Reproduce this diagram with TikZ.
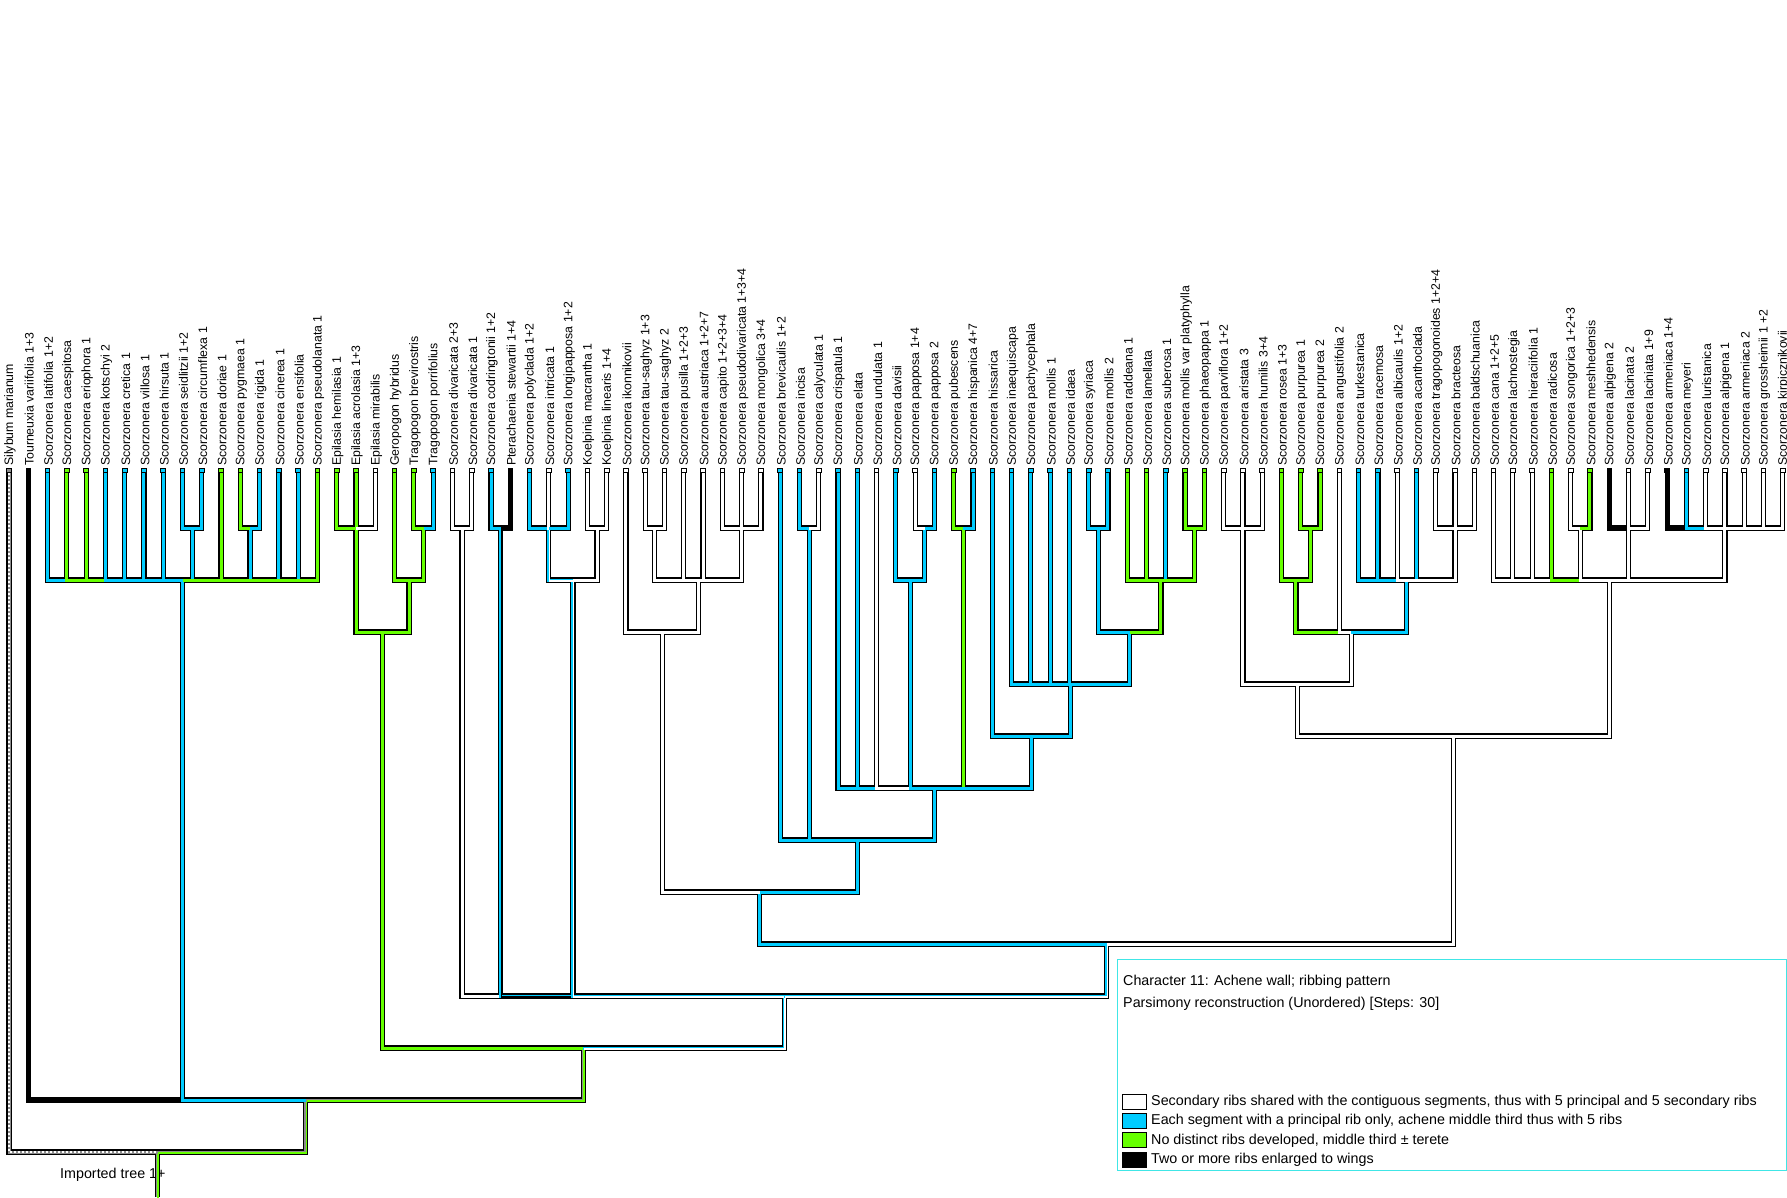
\documentclass[tikz,border=0pt]{standalone}
\usepackage{fontspec}
\setmainfont{Liberation Sans}
\usetikzlibrary{positioning}

\definecolor{cw}{RGB}{255,255,255}
\definecolor{cb}{RGB}{0,204,255}
\definecolor{cg}{RGB}{102,255,0}
\definecolor{ck}{RGB}{0,0,0}
\definecolor{cu}{RGB}{140,140,140}
\definecolor{legcyan}{RGB}{64,230,230}

\begin{document}
\begin{tikzpicture}[x=1pt, y=-1pt,
  lab/.style={rotate=90, anchor=west, inner sep=0pt, font=\fontsize{12.3}{14}\selectfont},
  tipbox/.style={draw, line width=0.9pt, minimum size=4.6pt, inner sep=0pt},
  branchline/.style={draw=black, line width=5.2pt},
  branchfill/.style={draw=#1, line width=3pt},
  branchstripe/.style={draw=#1, line width=1.5pt, transform canvas={xshift=0.75pt, yshift=-0.75pt}},
  swatch/.style={draw, line width=1pt, minimum width=24pt, minimum height=15pt, inner sep=0pt},
  legtext/.style={font=\fontsize{14.3}{16}\selectfont, inner sep=0pt},
  node distance=4.5pt]
\useasboundingbox (0,0) rectangle (1787,1197);

\def\taxa{Silybum marianum/cu, Tourneuxia variifolia 1+3/ck, Scorzonera latifolia 1+2/cb,
  Scorzonera caespitosa/cg, Scorzonera eriophora 1/cg, Scorzonera kotschyi 2/cb,
  Scorzonera cretica 1/cb, Scorzonera villosa 1/cb, Scorzonera hirsuta 1/cb,
  Scorzonera seidlitzii 1+2/cb, Scorzonera circumflexa 1/cb, Scorzonera doriae 1/cg,
  Scorzonera pygmaea 1/cg, Scorzonera rigida 1/cb, Scorzonera cinerea 1/cb,
  Scorzonera ensifolia/cb, Scorzonera pseudolanata 1/cg, Epilasia hemilasia 1/cg,
  Epilasia acrolasia 1+3/cg, Epilasia mirabilis/cw, Geropogon hybridus/cg,
  Tragopogon brevirostris/cg, Tragopogon porrifolius/cb, Scorzonera divaricata 2+3/cw,
  Scorzonera divaricata 1/cw, Scorzonera codringtonii 1+2/cb, Pterachaenia stewartii 1+4/ck,
  Scorzonera polyclada 1+2/cb, Scorzonera intricata 1/cw, Scorzonera longipapposa 1+2/cb,
  Koelpinia macrantha 1/cw, Koelpinia linearis 1+4/cw, Scorzonera ikonnikovii/cw,
  Scorzonera tau-saghyz 1+3/cw, Scorzonera tau-saghyz 2/cw, Scorzonera pusilla 1+2+3/cw,
  Scorzonera austriaca 1+2+7/cw, Scorzonera capito 1+2+3+4/cw, Scorzonera pseudodivaricata 1+3+4/cw,
  Scorzonera mongolica 3+4/cw, Scorzonera brevicaulis 1+2/cb, Scorzonera incisa/cb,
  Scorzonera calyculata 1/cw, Scorzonera crispatula 1/cb, Scorzonera elata/cb,
  Scorzonera undulata 1/cw, Scorzonera davisii/cb, Scorzonera papposa 1+4/cw,
  Scorzonera papposa 2/cb, Scorzonera pubescens/cg, Scorzonera hispanica 4+7/cb,
  Scorzonera hissarica/cb, Scorzonera inaequiscapa/cb, Scorzonera pachycephala/cb,
  Scorzonera mollis 1/cb, Scorzonera idaea/cb, Scorzonera syriaca/cb,
  Scorzonera mollis 2/cb, Scorzonera raddeana 1/cg, Scorzonera lamellata/cg,
  Scorzonera suberosa 1/cb, Scorzonera mollis var platyphylla/cg, Scorzonera phaeopappa 1/cg,
  Scorzonera parviflora 1+2/cw, Scorzonera aristata 3/cw, Scorzonera humilis 3+4/cw,
  Scorzonera rosea 1+3/cg, Scorzonera purpurea 1/cg, Scorzonera purpurea 2/cg,
  Scorzonera angustifolia 2/cw, Scorzonera turkestanica/cb, Scorzonera racemosa/cb,
  Scorzonera albicaulis 1+2/cw, Scorzonera acanthoclada/cb, Scorzonera tragopogonoides 1+2+4/cw,
  Scorzonera bracteosa/cw, Scorzonera baldschuanica/cw, Scorzonera cana 1+2+5/cw,
  Scorzonera lachnostegia/cw, Scorzonera hieraciifolia 1/cw, Scorzonera radicosa/cg,
  Scorzonera songorica 1+2+3/cw, Scorzonera meshhedensis/cg, Scorzonera alpigena 2/ck,
  Scorzonera lacinata 2/cw, Scorzonera laciniata 1+9/cw, Scorzonera armeniaca 1+4/ck,
  Scorzonera meyeri/cb, Scorzonera luristanica/cw, Scorzonera alpigena 1/cw,
  Scorzonera armeniaca 2/cw, Scorzonera grossheimii 1 +2/cw, Scorzonera kirpicznikovii/cw}

\def\edges{base/R/cu/cg, t1/R/cu/cu, A/R/cu/cg,
  t2/A/ck/ck, C1/A/cb/cb, B/A/cu/cg,
  t3/C1/cb/cb, t4/C1/cg/cg, t5/C1/cg/cg, t6/C1/cb/cb, t7/C1/cb/cb, t8/C1/cb/cb, t9/C1/cb/cb,
  sc/C1/cb/cb, t12/C1/cg/cg, pr/C1/cb/cb, t15/C1/cb/cb, t16/C1/cb/cb, t17/C1/cg/cg,
  t10/sc/cb/cb, t11/sc/cb/cb, t13/pr/cg/cg, t14/pr/cb/cb,
  eg/B/cg/cg, D/B/cb/cw,
  ep/eg/cg/cg, gt/eg/cg/cg,
  t18/ep/cg/cg, t19/ep/cg/cg, t20/ep/cw/cw,
  t21/gt/cg/cg, tr/gt/cg/cg, t22/tr/cg/cg, t23/tr/cb/cb,
  dv/D/cw/cw, cp/D/cb/ck, F/D/cb/cw, E/D/cb/cw,
  t24/dv/cw/cw, t25/dv/cw/cw, t26/cp/cb/cb, t27/cp/ck/ck,
  pi/F/cb/cw, ko/F/cw/cw,
  t28/pi/cb/cb, t29/pi/cw/cw, t30/pi/cb/cb, t31/ko/cw/cw, t32/ko/cw/cw,
  G/E/cb/cb, H/E/cw/cw,
  I/G/cw/cw, J/G/cb/cb,
  t33/I/cw/cw, K/I/cw/cw,
  ts/K/cw/cw, t36/K/cw/cw, t37/K/cw/cw, cm/K/cw/cw,
  t34/ts/cw/cw, t35/ts/cw/cw, t38/cm/cw/cw, t39/cm/cw/cw, t40/cm/cw/cw,
  t41/J/cb/cb, ic/J/cb/cb, L/J/cb/cb,
  t42/ic/cb/cb, t43/ic/cw/cw,
  t44/L/cb/cb, t45/L/cb/cb, t46/L/cw/cw, M/L/cb/cb, ph/L/cg/cg, N/L/cb/cb,
  t47/M/cb/cb, pp/M/cb/cb, t48/pp/cw/cw, t49/pp/cb/cb,
  t50/ph/cg/cg, t51/ph/cb/cb,
  t52/N/cb/cb, O/N/cb/cb,
  t53/O/cb/cb, t54/O/cb/cb, t55/O/cb/cb, t56/O/cb/cb, P/O/cb/cb,
  sm/P/cb/cb, Q/P/cg/cg, t57/sm/cb/cb, t58/sm/cb/cb,
  t59/Q/cg/cg, t60/Q/cg/cg, t61/Q/cb/cb, pa/Q/cg/cg, t62/pa/cg/cg, t63/pa/cg/cg,
  S/H/cw/cw, T/H/cw/cw,
  U/S/cw/cw, V/S/cw/cw,
  t64/U/cw/cw, t65/U/cw/cw, t66/U/cw/cw,
  W/V/cg/cg, t70/V/cw/cw, X/V/cb/cb,
  t67/W/cg/cg, pu/W/cg/cg, t68/pu/cg/cg, t69/pu/cg/cg,
  t71/X/cb/cb, t72/X/cb/cb, t73/X/cw/cw, t74/X/cb/cb, Y/X/cw/cw,
  t75/Y/cw/cw, t76/Y/cw/cw, t77/Y/cw/cw,
  t78/T/cw/cw, t79/T/cw/cw, t80/T/cw/cw, t81/T/cg/cg, sg/T/cw/cw, al/T/cw/cw, ar/T/cw/cw,
  t82/sg/cw/cw, t83/sg/cg/cg,
  t84/al/ck/ck, t85/al/cw/cw, t86/al/cw/cw,
  t87/ar/ck/ck, t88/ar/cb/cb, t89/ar/cw/cw, t90/ar/cw/cw, t91/ar/cw/cw, t92/ar/cw/cw, t93/ar/cw/cw}

% tips and labels
\foreach \taxon/\tcol [count=\i] in \taxa {
  \coordinate (t\i) at ({9+(\i-1)*19.28},473);
  \node[lab] (n\i) at ({10+(\i-1)*19.28},466) {\taxon};
}

% internal nodes
\coordinate (sc) at (192.16,528);
\coordinate (pr) at (250.00,528);
\coordinate (C1) at (182.52,580);
\coordinate (ep) at (356.04,528);
\coordinate (tr) at (423.52,528);
\coordinate (gt) at (409.06,580);
\coordinate (eg) at (382.55,632);
\coordinate (dv) at (462.08,528);
\coordinate (cp) at (500.64,528);
\coordinate (pi) at (548.84,528);
\coordinate (ko) at (597.04,528);
\coordinate (F) at (572.94,580);
\coordinate (ts) at (654.88,528);
\coordinate (cm) at (741.64,528);
\coordinate (K) at (698.26,580);
\coordinate (I) at (662.11,632);
\coordinate (ic) at (809.12,528);
\coordinate (pp) at (924.80,528);
\coordinate (M) at (910.34,580);
\coordinate (ph) at (963.36,528);
\coordinate (sm) at (1098.32,528);
\coordinate (pa) at (1194.72,528);
\coordinate (Q) at (1160.98,580);
\coordinate (P) at (1129.65,632);
\coordinate (O) at (1070.61,684);
\coordinate (N) at (1031.44,736);
\coordinate (L) at (934.74,788);
\coordinate (J) at (857.47,840);
\coordinate (G) at (759.79,892);
\coordinate (U) at (1242.92,528);
\coordinate (pu) at (1310.40,528);
\coordinate (W) at (1295.94,580);
\coordinate (Y) at (1455.00,528);
\coordinate (X) at (1406.80,580);
\coordinate (V) at (1351.37,632);
\coordinate (S) at (1297.15,684);
\coordinate (sg) at (1580.32,528);
\coordinate (al) at (1628.52,528);
\coordinate (ar) at (1724.92,528);
\coordinate (T) at (1609.24,580);
\coordinate (H) at (1453.20,736);
\coordinate (E) at (1106.50,944);
\coordinate (D) at (784.29,996);
\coordinate (B) at (583.42,1048);
\coordinate (A) at (305.85,1100);
\coordinate (R) at (157.43,1152);
\coordinate (base) at (157.43,1197);

\node[legtext, anchor=west] (imp) at (60,1175) {Imported tree 1+};

% branches: outline first, then the states
\foreach \kid/\mom/\fcol/\scol in \edges
  \draw[branchline] (\kid) |- (\mom);
\foreach \kid/\mom/\fcol/\scol in \edges {
  \draw[branchfill=\fcol] (\kid) |- (\mom);
  \draw[branchstripe=\scol] (\kid) |- (\mom);
}
\draw[white, line width=1.2pt, dash pattern=on 2pt off 2pt] (t1) |- (R);

\foreach \taxon/\tcol [count=\i] in \taxa
  \node[tipbox, fill=\tcol] (b\i) at ({9+(\i-1)*19.28},470.5) {};

% legend
\draw[legcyan, line width=1.2pt] (1117.5,959.5) rectangle (1786.4,1170.5);
\node[legtext, anchor=west] (chr) at (1123,981.7) {Character 11: Achene wall; ribbing pattern};
\node[legtext, anchor=west] (rec) at (1123,1003.3) {Parsimony reconstruction (Unordered) [Steps: 30]};
\node[swatch, fill=cw] (s1) at (1134,1101.7) {};
\node[swatch, fill=cb] (s2) at (1134,1121) {};
\node[swatch, fill=cg] (s3) at (1134,1140.3) {};
\node[swatch, fill=ck] (s4) at (1134,1159.8) {};
\node[legtext, right=of s1] (l1) {Secondary ribs shared with the contiguous segments, thus with 5 principal and 5 secondary ribs};
\node[legtext, right=of s2] (l2) {Each segment with a principal rib only, achene middle third thus with 5 ribs};
\node[legtext, right=of s3] (l3) {No distinct ribs developed, middle third ± terete};
\node[legtext, right=of s4] (l4) {Two or more ribs enlarged to wings};
\end{tikzpicture}
\end{document}
